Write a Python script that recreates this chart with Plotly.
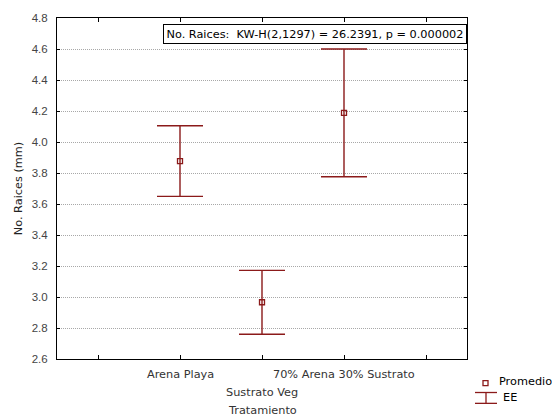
import plotly.graph_objects as go

# Tratamientos y estadísticos (promedio ± error estándar)
tratamientos = ["Arena Playa", "Sustrato Veg", "70% Arena 30% Sustrato"]
promedio = [3.877, 2.966, 4.188]
ee = [0.228, 0.206, 0.412]
y_ticks = [2.6, 2.8, 3.0, 3.2, 3.4, 3.6, 3.8, 4.0, 4.2, 4.4, 4.6, 4.8]
kw_texto = "No. Raices:  KW-H(2,1297) = 26.2391, p = 0.000002"

ROJO = "#8B1A1A"
TEXTO = "DejaVu Sans, Verdana, sans-serif"
NUM = "Liberation Sans, Arial, sans-serif"
FS = 11.3

pos = list(range(len(tratamientos)))

L, R, T, B = 57, 467, 13, 359
W, H = 552, 419


def px_x(px):
    return (px - L) / (R - L)


def px_y(py):
    return (B - py) / (B - T)


fig = go.Figure()
fig.add_trace(go.Scatter(
    x=pos, y=promedio,
    mode="markers",
    marker=dict(symbol="square-open", size=5, color=ROJO, line=dict(width=1.3, color=ROJO)),
    error_y=dict(type="data", array=ee, visible=True, color=ROJO, thickness=1.4, width=23),
    showlegend=False,
    cliponaxis=False,
))

# marcas del eje x (una por tratamiento y una a cada extremo)
tick_vals = [-1] + pos + [len(pos)]

fig.update_layout(
    width=W, height=H,
    margin=dict(l=L, r=W - R, t=T, b=H - B),
    paper_bgcolor="white", plot_bgcolor="white",
    font=dict(family=NUM, size=11, color="#444444"),
    xaxis=dict(
        range=[-1.5, len(pos) + 0.5],
        tickmode="array", tickvals=tick_vals, ticktext=[""] * len(tick_vals),
        ticks="inside", ticklen=4, tickcolor="black",
        showline=True, linecolor="black", linewidth=1, mirror="allticks",
        showgrid=False, zeroline=False,
    ),
    yaxis=dict(
        range=[2.6, 4.8],
        tickmode="array", tickvals=y_ticks, ticktext=[f"{v:.1f}" for v in y_ticks],
        ticks="inside", ticklen=3, tickcolor="black",
        showline=True, linecolor="black", linewidth=1, mirror="allticks",
        showgrid=True, gridcolor="#a8a8a8", griddash="1px,1px", gridwidth=1,
        zeroline=False,
        tickfont=dict(size=11.5, color="#444444", family=NUM),
        ticklabelstandoff=6,
        title=dict(text="No. Raices (mm)", font=dict(size=FS, color="#222222", family=TEXTO), standoff=6),
    ),
)

# Etiquetas de tratamiento en dos filas alternadas
for i, t in enumerate(tratamientos):
    fig.add_annotation(text=t, xref="x", yref="paper", x=pos[i],
                       y=px_y(375 if i % 2 == 0 else 393),
                       xanchor="center", yanchor="middle", showarrow=False,
                       font=dict(size=FS, color="#333333", family=TEXTO))
fig.add_annotation(text="Tratamiento", xref="paper", yref="paper", x=0.5, y=px_y(411),
                   xanchor="center", yanchor="middle", showarrow=False,
                   font=dict(size=FS, color="#333333", family=TEXTO))

# Recuadro con el resultado de Kruskal-Wallis
fig.add_annotation(
    text=kw_texto, xref="paper", yref="paper", x=1.0, y=px_y(19),
    xanchor="right", yanchor="top", showarrow=False,
    font=dict(size=FS, color="black", family=TEXTO),
    bgcolor="white", bordercolor="black", borderwidth=1, borderpad=2.5,
)

# Leyenda: Promedio (cuadro) y EE (barra de error)
fig.add_shape(type="rect", xref="paper", yref="paper",
              x0=px_x(483), x1=px_x(488), y0=px_y(386), y1=px_y(381),
              line=dict(color=ROJO, width=1.3), fillcolor="white")
fig.add_annotation(text="Promedio", xref="paper", yref="paper", x=px_x(497), y=px_y(382),
                   xanchor="left", yanchor="middle", showarrow=False,
                   font=dict(size=FS, color="black", family=TEXTO))
for py in (393, 404):
    fig.add_shape(type="line", xref="paper", yref="paper",
                  x0=px_x(475), x1=px_x(497), y0=px_y(py), y1=px_y(py),
                  line=dict(color=ROJO, width=1.3))
fig.add_shape(type="line", xref="paper", yref="paper",
              x0=px_x(486), x1=px_x(486), y0=px_y(393), y1=px_y(404),
              line=dict(color=ROJO, width=1.3))
fig.add_annotation(text="EE", xref="paper", yref="paper", x=px_x(501), y=px_y(398),
                   xanchor="left", yanchor="middle", showarrow=False,
                   font=dict(size=FS, color="black", family=TEXTO))

fig.write_html("out.html")
